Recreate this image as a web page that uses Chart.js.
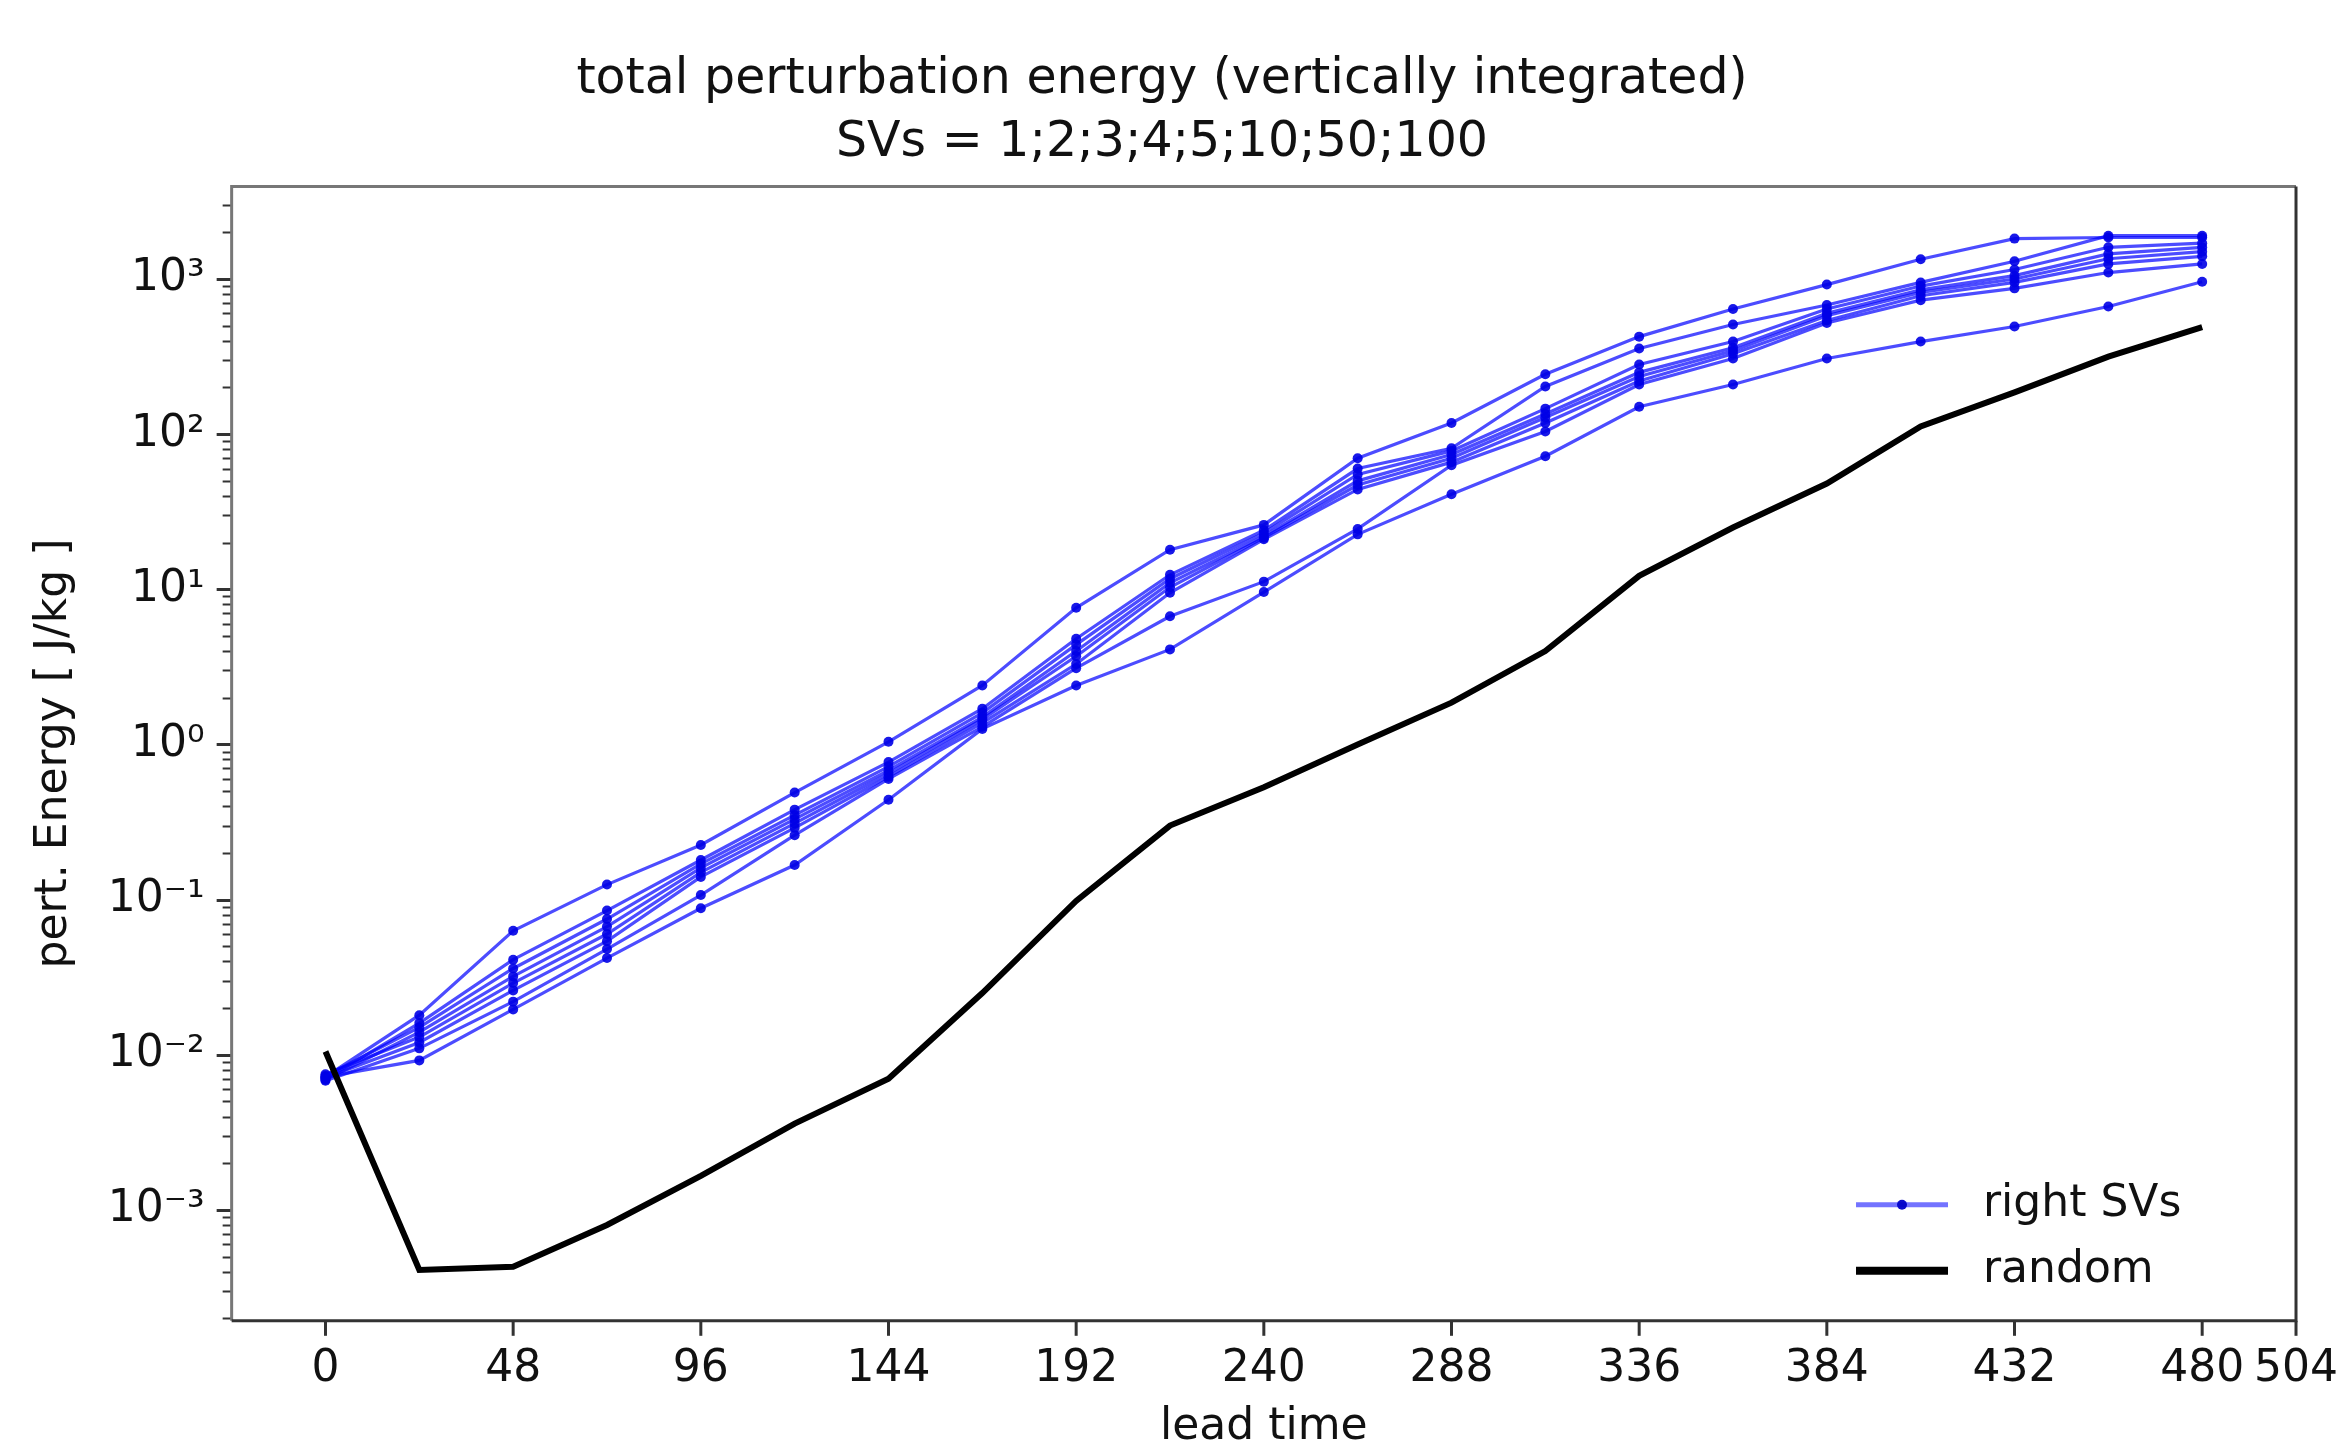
<!DOCTYPE html>
<html>
<head>
<meta charset="utf-8">
<script src="https://cdn.jsdelivr.net/npm/chart.js@4.4.1/dist/chart.umd.min.js"></script>
<style>
  html, body { margin: 0; padding: 0; background: #ffffff; }
  #wrap { width: 2338px; height: 1440px; }
</style>
</head>
<body>
<div id="wrap"><canvas id="c" width="2338" height="1440"></canvas></div>
<script>
// ---------------- data ----------------
const leadTimes = [0, 24, 48, 72, 96, 120, 144, 168, 192, 216, 240, 264, 288, 312, 336, 360, 384, 408, 432, 456, 480];

const sv1 = [0.0072, 0.018, 0.063, 0.125, 0.225, 0.49, 1.04, 2.4, 7.6, 18, 26, 70, 118, 243, 425, 640, 920, 1340, 1820, 1850, 1850];
const sv2 = [0.0070, 0.016, 0.041, 0.085, 0.18, 0.38, 0.77, 1.7, 4.8, 12.4, 24, 60, 81, 203, 356, 509, 680, 950, 1300, 1900, 1900];
const sv3 = [0.0073, 0.015, 0.036, 0.075, 0.17, 0.35, 0.72, 1.6, 4.4, 11.7, 23, 55, 78, 146, 281, 395, 640, 900, 1150, 1600, 1700];
const sv4 = [0.0069, 0.014, 0.032, 0.067, 0.16, 0.33, 0.68, 1.5, 4.0, 11, 22, 50, 74, 135, 250, 360, 600, 850, 1050, 1450, 1600];
const sv5 = [0.0075, 0.013, 0.029, 0.060, 0.15, 0.31, 0.65, 1.45, 3.7, 10.3, 21.5, 47, 70, 128, 235, 345, 580, 820, 1000, 1350, 1500];
const sv6 = [0.0071, 0.012, 0.026, 0.054, 0.14, 0.29, 0.62, 1.38, 3.3, 9.5, 21, 44, 66, 118, 220, 330, 540, 780, 950, 1250, 1400];
const sv7 = [0.0068, 0.011, 0.022, 0.048, 0.107, 0.26, 0.60, 1.3, 3.1, 6.7, 11.2, 24.5, 63, 104, 209, 307, 520, 730, 870, 1100, 1250];
const sv8 = [0.0072, 0.0092, 0.0196, 0.042, 0.088, 0.167, 0.44, 1.26, 2.4, 4.1, 9.6, 22.6, 41, 72, 150, 209, 307, 395, 494, 664, 960];
const svSeries = [sv1, sv2, sv3, sv4, sv5, sv6, sv7, sv8];

const randomEnergy = [0.0105, 0.00041, 0.00043, 0.00080, 0.00166, 0.0036, 0.0070, 0.025, 0.098, 0.30, 0.53, 1.0, 1.86, 4.0, 12.2, 25, 48, 112, 186, 316, 490];

const xTickValues = [0, 48, 96, 144, 192, 240, 288, 336, 384, 432, 480, 504];
const yMajorTicks = [1e-3, 1e-2, 1e-1, 1e0, 1e1, 1e2, 1e3];
const yTickLabels = ['10\u207B\u00B3', '10\u207B\u00B2', '10\u207B\u00B9', '10\u2070', '10\u00B9', '10\u00B2', '10\u00B3'];
const titleLines = ['total perturbation energy (vertically integrated)', 'SVs = 1;2;3;4;5;10;50;100'];
const xAxisTitle = 'lead time';
const yAxisTitle = 'pert. Energy [ J/kg ]';
const svLabel = 'right SVs';
const randomLabel = 'random';

// ---------------- chart ----------------
const FONT = "'DejaVu Sans', 'Noto Sans', sans-serif";
const xMin = -24, xMax = 504, yMin = 1.93e-4, yMax = 3950;

function toPoints(arr) { return leadTimes.map((t, i) => ({ x: t, y: arr[i] })); }

const datasets = [];
datasets.push({
  label: randomLabel,
  data: toPoints(randomEnergy),
  borderColor: '#000000',
  backgroundColor: '#000000',
  borderWidth: 6,
  pointRadius: 0,
  tension: 0,
  order: 0,
  legendStyle: 'line'
});
svSeries.forEach((s, k) => {
  datasets.push({
    label: k === 0 ? svLabel : '',
    data: toPoints(s),
    borderColor: 'rgba(0,0,255,0.7)',
    backgroundColor: 'rgba(0,0,230,0.9)',
    pointBackgroundColor: 'rgba(0,0,230,0.9)',
    pointBorderWidth: 0,
    pointRadius: 5,
    borderWidth: 3.2,
    tension: 0,
    order: 1,
    legendStyle: 'marker'
  });
});

const decoPlugin = {
  id: 'deco',
  afterDraw(chart) {
    const { ctx, chartArea: a, scales } = chart;
    ctx.save();
    // y ticks (major + minor)
    const ys = scales.y;
    ys.ticks.forEach(t => {
      const py = ys.getPixelForValue(t.value);
      if (py < a.top + 1 || py > a.bottom - 1) return;
      const len = t.major ? 15 : 9;
      ctx.strokeStyle = '#333';
      ctx.lineWidth = t.major ? 3 : 2;
      ctx.beginPath();
      ctx.moveTo(a.left, Math.round(py) + 0.5);
      ctx.lineTo(a.left - len, Math.round(py) + 0.5);
      ctx.stroke();
    });
    // x ticks
    const xs = scales.x;
    xs.ticks.forEach(t => {
      const px = xs.getPixelForValue(t.value);
      ctx.strokeStyle = '#333';
      ctx.lineWidth = 3;
      ctx.beginPath();
      ctx.moveTo(px, a.bottom);
      ctx.lineTo(px, a.bottom + 15);
      ctx.stroke();
    });
    // spines
    ctx.lineWidth = 3;
    ctx.strokeStyle = '#777';
    ctx.beginPath();
    ctx.moveTo(a.left, a.bottom); ctx.lineTo(a.left, a.top); ctx.lineTo(a.right, a.top);
    ctx.stroke();
    ctx.strokeStyle = '#333';
    ctx.beginPath();
    ctx.moveTo(a.right, a.top); ctx.lineTo(a.right, a.bottom); ctx.lineTo(a.left, a.bottom);
    ctx.stroke();
    // legend (inside, lower right)
    const items = chart.data.datasets.filter(d => d.label);
    const ordered = items.sort((p, q) => (p.legendStyle === 'marker' ? -1 : 1));
    const x0 = a.right - 440, x1 = a.right - 348, tx = a.right - 313;
    const rows = [a.bottom - 116, a.bottom - 50];
    ctx.font = "44px " + FONT;
    ctx.textBaseline = 'middle';
    ctx.textAlign = 'left';
    ordered.forEach((d, i) => {
      const y = rows[i];
      if (d.legendStyle === 'marker') {
        ctx.strokeStyle = 'rgba(0,0,255,0.55)';
        ctx.lineWidth = 5;
        ctx.beginPath(); ctx.moveTo(x0, y); ctx.lineTo(x1, y); ctx.stroke();
        ctx.fillStyle = 'rgba(0,0,200,0.95)';
        ctx.beginPath(); ctx.arc((x0 + x1) / 2, y, 5, 0, Math.PI * 2); ctx.fill();
      } else {
        ctx.strokeStyle = '#000';
        ctx.lineWidth = 8;
        ctx.beginPath(); ctx.moveTo(x0, y); ctx.lineTo(x1, y); ctx.stroke();
      }
      ctx.fillStyle = '#111';
      ctx.fillText(d.label, tx, y);
    });
    ctx.restore();
  }
};

new Chart(document.getElementById('c'), {
  type: 'line',
  data: { datasets },
  plugins: [decoPlugin],
  options: {
    responsive: false,
    devicePixelRatio: 1,
    animation: false,
    events: [],
    layout: { padding: { left: 20, right: 34, top: 0, bottom: -10 } },
    plugins: {
      legend: { display: false },
      tooltip: { enabled: false },
      title: {
        display: true,
        text: titleLines,
        color: '#111',
        font: { family: FONT, size: 49, weight: 'normal', lineHeight: 1.3 },
        padding: { top: 48, bottom: 11 }
      }
    },
    scales: {
      x: {
        type: 'linear',
        min: xMin,
        max: xMax,
        afterBuildTicks: (axis) => { axis.ticks = xTickValues.map(v => ({ value: v })); },
        grid: { display: false, drawTicks: true, tickLength: 31 },
        border: { display: false },
        ticks: {
          autoSkip: false,
          maxRotation: 0,
          padding: 0,
          color: '#111',
          font: { family: FONT, size: 44, lineHeight: 0.8 },
          callback: (v) => String(v)
        },
        title: {
          display: true,
          text: xAxisTitle,
          color: '#111',
          font: { family: FONT, size: 44, lineHeight: 1.0 },
          padding: { top: 19, bottom: 0 }
        }
      },
      y: {
        type: 'logarithmic',
        min: yMin,
        max: yMax,
        afterBuildTicks: (axis) => {
          const ticks = [];
          for (let e = -4; e <= 3; e++) {
            for (let m = 1; m <= 9; m++) {
              const v = m * Math.pow(10, e);
              if (v < yMin || v > yMax) continue;
              ticks.push({ value: v, major: m === 1 });
            }
          }
          axis.ticks = ticks;
        },
        grid: { display: false, drawTicks: false },
        border: { display: false },
        ticks: {
          autoSkip: false,
          padding: 27,
          color: '#111',
          font: { family: FONT, size: 44 },
          callback: function (v) {
            const idx = yMajorTicks.findIndex(m => Math.abs(Math.log10(m) - Math.log10(v)) < 1e-6);
            return idx >= 0 ? yTickLabels[idx] : '';
          }
        },
        title: {
          display: true,
          text: yAxisTitle,
          color: '#111',
          font: { family: FONT, size: 44, lineHeight: 1.2 },
          padding: { top: 8, bottom: 0 }
        }
      }
    }
  }
});
</script>
</body>
</html>
